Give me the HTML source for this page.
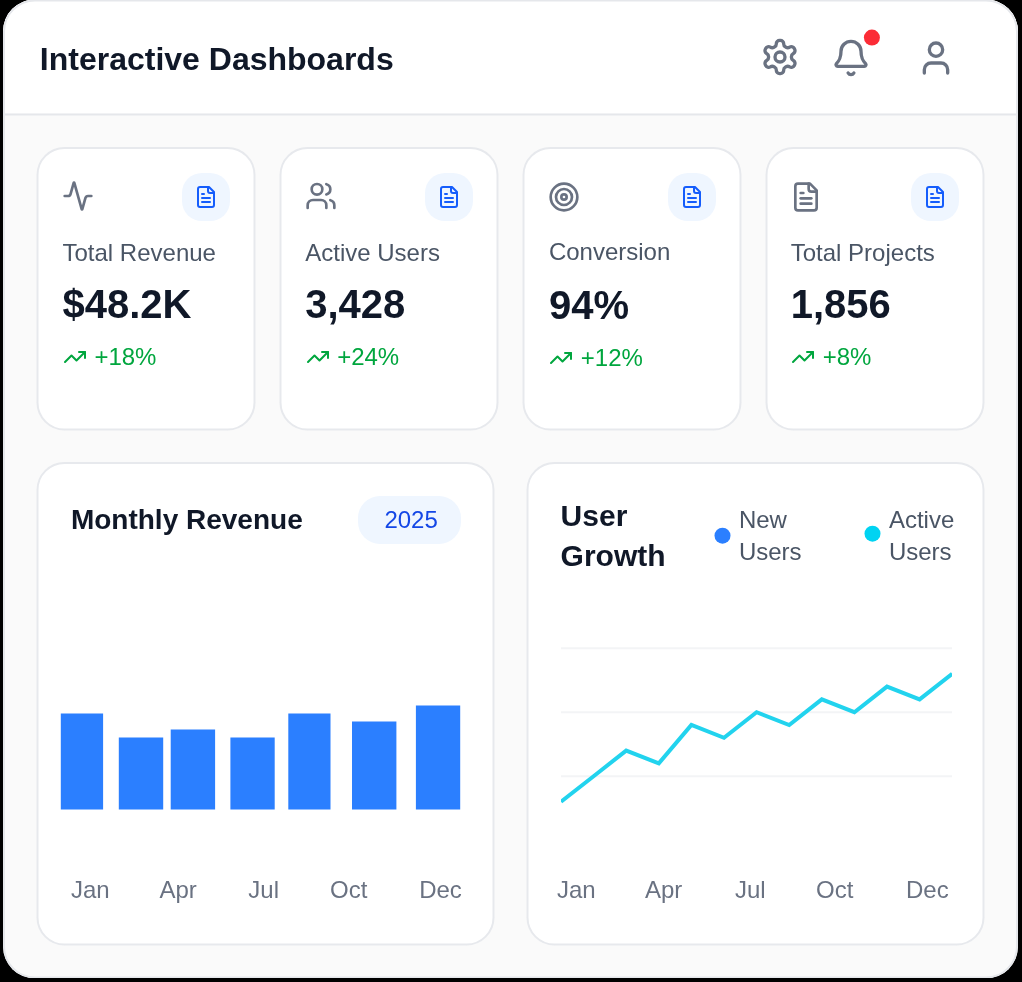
<!DOCTYPE html>
<html>
<head>
<meta charset="utf-8">
<style>
*{box-sizing:border-box;margin:0;padding:0}
html,body{width:1022px;height:982px;overflow:hidden;background:#000}
body{font-family:"Liberation Sans",sans-serif;position:relative}
.frame{position:absolute;left:3px;top:0;width:1015px;height:979px;border-radius:32px;background:#fafafa;overflow:hidden;transform:translateY(-.5px)}
.frame:after{content:"";position:absolute;left:0;top:0;right:0;bottom:0;border:2px solid #e5e7eb;border-radius:32px}
.stage{position:absolute;left:0;top:0;width:1022px;height:982px;will-change:transform}
.abs{position:absolute}
.blk{position:absolute;background:#000}
.hdr{position:absolute;left:0;top:0;width:1016px;height:114px;background:#fff}
.hline{position:absolute;left:0;top:114px;width:1016px;height:2px;background:#e5e7eb}
.t{position:absolute;white-space:nowrap}
.title{left:39.8px;top:35px;font-size:32px;line-height:48px;font-weight:700;color:#101828}
svg.ic{position:absolute;fill:none;stroke:#6a7282;stroke-width:2;stroke-linecap:round;stroke-linejoin:round;overflow:visible}
.btn{position:absolute;width:48px;height:48px;top:172.6px;border-radius:20px;background:#eff6ff}
.btn svg{position:absolute;left:12px;top:12px;width:24px;height:24px;fill:none;stroke:#155dfc;stroke-width:2;stroke-linecap:round;stroke-linejoin:round}
.lbl{top:236.7px;font-size:24px;line-height:32px;color:#4a5565}
.val{top:275.5px;font-size:40px;line-height:56px;font-weight:700;color:#101828}
.trd{top:341.1px;font-size:24px;line-height:32px;color:#00a63e}
svg.tr{position:absolute;top:344.7px;width:24px;height:24px;fill:none;stroke:#00a63e;stroke-width:2;stroke-linecap:round;stroke-linejoin:round}
.ctitle{font-size:28px;line-height:40px;font-weight:700;color:#101828}
.badge{position:absolute;left:357.6px;top:495.7px;width:103.6px;height:48px;border-radius:22px;background:#eff6ff}
.badge span{position:absolute;left:26.8px;top:8px;font-size:24px;line-height:32px;color:#1447e6;white-space:nowrap}
.ax{font-size:24px;line-height:32px;color:#6a7282;top:873.7px}
.lg{font-size:24px;line-height:32px;color:#4a5565;top:504px;white-space:normal}
</style>
</head>
<body>
<div class="frame"><div class="hdr"></div><div class="hline"></div></div>
<div class="blk" style="left:0;top:0;width:3px;height:982px"></div><div class="blk" style="left:1018px;top:0;width:4px;height:982px"></div><div class="blk" style="left:0;top:978px;width:1022px;height:4px"></div>
<div class="stage">
  <svg class="abs" style="left:0;top:0;width:1022px;height:982px" viewBox="0 0 1022 982"><g fill="#fff" stroke="#e7e9ed" stroke-width="2"><rect x="37.5" y="148" width="217.0" height="281.5" rx="27" ry="27"/><rect x="280.5" y="148" width="217.0" height="281.5" rx="27" ry="27"/><rect x="523.5" y="148" width="217.0" height="281.5" rx="27" ry="27"/><rect x="766.5" y="148" width="217.0" height="281.5" rx="27" ry="27"/><rect x="37.5" y="463" width="456.0" height="481.5" rx="27" ry="27"/><rect x="527.5" y="463" width="456.0" height="481.5" rx="27" ry="27"/></g><circle cx="871.9" cy="37.6" r="8" fill="#fb2c36"/><circle cx="722.5" cy="535.7" r="8" fill="#2b7fff"/><circle cx="872.5" cy="533.7" r="8" fill="#00d3f2"/></svg>
  <div class="t title">Interactive Dashboards</div>

  <!-- header icons -->
  <svg class="ic" style="left:759.6px;top:37px;width:40px;height:40px" viewBox="0 0 24 24"><path d="M12.22 2h-.44a2 2 0 0 0-2 2v.18a2 2 0 0 1-1 1.73l-.43.25a2 2 0 0 1-2 0l-.15-.08a2 2 0 0 0-2.73.73l-.22.38a2 2 0 0 0 .73 2.73l.15.1a2 2 0 0 1 1 1.72v.51a2 2 0 0 1-1 1.74l-.15.09a2 2 0 0 0-.73 2.73l.22.38a2 2 0 0 0 2.73.73l.15-.08a2 2 0 0 1 2 0l.43.25a2 2 0 0 1 1 1.73V20a2 2 0 0 0 2 2h.44a2 2 0 0 0 2-2v-.18a2 2 0 0 1 1-1.73l.43-.25a2 2 0 0 1 2 0l.15.08a2 2 0 0 0 2.73-.73l.22-.39a2 2 0 0 0-.73-2.73l-.15-.08a2 2 0 0 1-1-1.74v-.5a2 2 0 0 1 1-1.74l.15-.09a2 2 0 0 0 .73-2.73l-.22-.38a2 2 0 0 0-2.73-.73l-.15.08a2 2 0 0 1-2 0l-.43-.25a2 2 0 0 1-1-1.73V4a2 2 0 0 0-2-2z"/><circle cx="12" cy="12" r="3"/></svg>
  <svg class="ic" style="left:831.4px;top:37.9px;width:40px;height:40px" viewBox="0 0 24 24"><path d="M10.268 21a2 2 0 0 0 3.464 0"/><path d="M3.262 15.326A1 1 0 0 0 4 17h16a1 1 0 0 0 .74-1.673C19.41 13.956 18 12.499 18 8A6 6 0 0 0 6 8c0 4.499-1.411 5.956-2.738 7.326"/></svg>
  <svg class="ic" style="left:915.6px;top:38px;width:40px;height:40px" viewBox="0 0 24 24"><path d="M19 21v-2a4 4 0 0 0-4-4H9a4 4 0 0 0-4 4v2"/><circle cx="12" cy="7" r="4"/></svg>

  <!-- card 1 -->
  <svg class="ic" style="left:62.2px;top:180.25px;width:32px;height:32px" viewBox="0 0 24 24"><path d="M22 12h-2.48a2 2 0 0 0-1.93 1.46l-2.35 8.36a.25.25 0 0 1-.48 0L9.24 2.18a.25.25 0 0 0-.48 0l-2.35 8.36A2 2 0 0 1 4.49 12H2"/></svg>
  <div class="btn" style="left:182.2px"><svg viewBox="0 0 24 24"><path d="M15 2H6a2 2 0 0 0-2 2v16a2 2 0 0 0 2 2h12a2 2 0 0 0 2-2V7Z"/><path d="M14 2v4a2 2 0 0 0 2 2h4"/><path d="M10 9H8"/><path d="M16 13H8"/><path d="M16 17H8"/></svg></div>
  <div class="t lbl" style="left:62.5px">Total Revenue</div>
  <div class="t val" style="left:62.5px">$48.2K</div>
  <svg class="tr" style="left:62.75px" viewBox="0 0 24 24"><path d="M16 7h6v6"/><path d="m22 7-8.5 8.5-5-5L2 17"/></svg>
  <div class="t trd" style="left:94.4px">+18%</div>

  <!-- card 2 -->
  <svg class="ic" style="left:305.2px;top:180.25px;width:32px;height:32px" viewBox="0 0 24 24"><path d="M16 21v-2a4 4 0 0 0-4-4H6a4 4 0 0 0-4 4v2"/><path d="M16 3.128a4 4 0 0 1 0 7.744"/><path d="M22 21v-2a4 4 0 0 0-3-3.87"/><circle cx="9" cy="7" r="4"/></svg>
  <div class="btn" style="left:424.95px"><svg viewBox="0 0 24 24"><path d="M15 2H6a2 2 0 0 0-2 2v16a2 2 0 0 0 2 2h12a2 2 0 0 0 2-2V7Z"/><path d="M14 2v4a2 2 0 0 0 2 2h4"/><path d="M10 9H8"/><path d="M16 13H8"/><path d="M16 17H8"/></svg></div>
  <div class="t lbl" style="left:305.25px">Active Users</div>
  <div class="t val" style="left:305.25px">3,428</div>
  <svg class="tr" style="left:305.6px" viewBox="0 0 24 24"><path d="M16 7h6v6"/><path d="m22 7-8.5 8.5-5-5L2 17"/></svg>
  <div class="t trd" style="left:337.15px">+24%</div>

  <!-- card 3 -->
  <svg class="ic" style="left:548.4px;top:181px;width:32px;height:32px" viewBox="0 0 24 24"><circle cx="12" cy="12" r="10"/><circle cx="12" cy="12" r="6"/><circle cx="12" cy="12" r="2"/></svg>
  <div class="btn" style="left:667.7px"><svg viewBox="0 0 24 24"><path d="M15 2H6a2 2 0 0 0-2 2v16a2 2 0 0 0 2 2h12a2 2 0 0 0 2-2V7Z"/><path d="M14 2v4a2 2 0 0 0 2 2h4"/><path d="M10 9H8"/><path d="M16 13H8"/><path d="M16 17H8"/></svg></div>
  <div class="t lbl" style="left:548.9px;top:235.9px">Conversion</div>
  <div class="t val" style="left:548.9px;top:276.5px">94%</div>
  <svg class="tr" style="left:549px;top:345.7px" viewBox="0 0 24 24"><path d="M16 7h6v6"/><path d="m22 7-8.5 8.5-5-5L2 17"/></svg>
  <div class="t trd" style="left:580.8px;top:342px">+12%</div>

  <!-- card 4 -->
  <svg class="ic" style="left:790.3px;top:180.7px;width:32px;height:32px" viewBox="0 0 24 24"><path d="M15 2H6a2 2 0 0 0-2 2v16a2 2 0 0 0 2 2h12a2 2 0 0 0 2-2V7Z"/><path d="M14 2v4a2 2 0 0 0 2 2h4"/><path d="M10 9H8"/><path d="M16 13H8"/><path d="M16 17H8"/></svg>
  <div class="btn" style="left:910.9px"><svg viewBox="0 0 24 24"><path d="M15 2H6a2 2 0 0 0-2 2v16a2 2 0 0 0 2 2h12a2 2 0 0 0 2-2V7Z"/><path d="M14 2v4a2 2 0 0 0 2 2h4"/><path d="M10 9H8"/><path d="M16 13H8"/><path d="M16 17H8"/></svg></div>
  <div class="t lbl" style="left:790.75px">Total Projects</div>
  <div class="t val" style="left:790.75px">1,856</div>
  <svg class="tr" style="left:791.1px" viewBox="0 0 24 24"><path d="M16 7h6v6"/><path d="m22 7-8.5 8.5-5-5L2 17"/></svg>
  <div class="t trd" style="left:822.65px">+8%</div>

  <!-- left chart -->
  <div class="t ctitle" style="left:70.9px;top:499.8px">Monthly Revenue</div>
  <div class="badge"><span>2025</span></div>
  <svg class="abs" style="left:0;top:690px;width:520px;height:140px" viewBox="0 690 520 140"><rect x="60.8" y="713.5" width="42.3" height="96" fill="#2b7fff"/><rect x="118.8" y="737.5" width="44.4" height="72" fill="#2b7fff"/><rect x="170.7" y="729.5" width="44.4" height="80" fill="#2b7fff"/><rect x="230.4" y="737.5" width="44.3" height="72" fill="#2b7fff"/><rect x="288.3" y="713.5" width="42.2" height="96" fill="#2b7fff"/><rect x="352.0" y="721.5" width="44.4" height="88" fill="#2b7fff"/><rect x="415.9" y="705.5" width="44.3" height="104" fill="#2b7fff"/></svg>
  <div class="t ax" style="left:71px">Jan</div>
  <div class="t ax" style="left:159.5px">Apr</div>
  <div class="t ax" style="left:248.3px">Jul</div>
  <div class="t ax" style="left:330px">Oct</div>
  <div class="t ax" style="left:419.2px">Dec</div>

  <!-- right chart -->
  <div class="t ctitle" style="left:560.6px;top:495.5px;font-size:30px">User<br>Growth</div>
  <div class="t lg" style="left:738.9px">New<br>Users</div>
  <div class="t lg" style="left:888.9px">Active<br>Users</div>
  <svg class="abs" style="left:561.2px;top:596.6px;width:391.2px;height:256px" viewBox="0 0 300 100" preserveAspectRatio="none">
    <g stroke="#f3f4f6" stroke-width="2" vector-effect="non-scaling-stroke">
      <line x1="0" y1="20" x2="300" y2="20" vector-effect="non-scaling-stroke"/>
      <line x1="0" y1="45" x2="300" y2="45" vector-effect="non-scaling-stroke"/>
      <line x1="0" y1="70" x2="300" y2="70" vector-effect="non-scaling-stroke"/>
    </g>
    <polyline fill="none" stroke="#22d3ee" stroke-width="4" vector-effect="non-scaling-stroke" points="0,80 25,70 50,60 75,65 100,50 125,55 150,45 175,50 200,40 225,45 250,35 275,40 300,30"/>
  </svg>
  <div class="t ax" style="left:557px">Jan</div>
  <div class="t ax" style="left:645px">Apr</div>
  <div class="t ax" style="left:735px">Jul</div>
  <div class="t ax" style="left:816px">Oct</div>
  <div class="t ax" style="left:906px">Dec</div>
</div>
</body>
</html>
